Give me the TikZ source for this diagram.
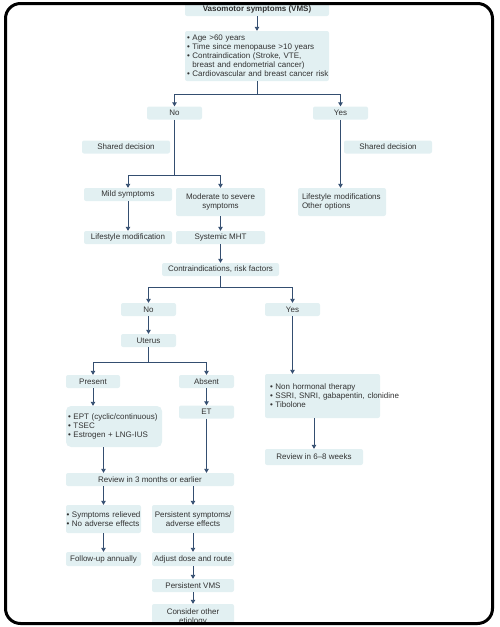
\documentclass[tikz,border=0pt]{standalone}
\usepackage{fontspec}
\setmainfont{Liberation Sans}
\definecolor{vmsfill}{RGB}{226,240,242}
\definecolor{vmsline}{RGB}{52,78,112}
\definecolor{vmstext}{RGB}{50,50,50}
\usetikzlibrary{arrows.meta}

\begin{document}
\begin{tikzpicture}[x=1pt,y=-1pt,
  box/.style={fill=vmsfill,rounded corners=2pt,inner sep=2pt,minimum height=13pt,
    font=\fontsize{8}{9}\selectfont,text=vmstext,align=center},
  lbox/.style={box,align=left},
  arr/.style={-{Triangle[length=4pt,width=4.5pt]},line width=0.9pt,vmsline},
  link/.style={line width=0.9pt,vmsline}
]
  \useasboundingbox (0,0) rectangle (499,627);
  \begin{scope}
  \clip[rounded corners=15pt] (5.5,3.5) rectangle (492.5,623.5);
  % Start and criteria
  \node[box,minimum width=144pt,font=\fontsize{8}{9}\selectfont\bfseries] (vms) at (257,9.5) {Vasomotor symptoms (VMS)};
  \node[lbox,text width=140pt,inner xsep=2pt,minimum height=50pt] (crit) at (257,56)
    {• Age >60 years\\• Time since menopause >10 years\\• Contraindication (Stroke, VTE,\\\phantom{• }breast and endometrial cancer)\\\mbox{• Cardiovascular and breast cancer risk}};
  % First decision
  \node[box,minimum width=55pt] (no1) at (174.5,113) {No};
  \node[box,minimum width=55pt] (yes1) at (340.5,113) {Yes};
  \node[box,minimum width=88pt] (sdl) at (126,147) {Shared decision};
  \node[box,minimum width=88pt] (sdr) at (388,147) {Shared decision};
  \node[box,minimum width=88pt] (mild) at (128,194.5) {Mild symptoms};
  \node[box,minimum width=89pt,minimum height=28pt] (mod) at (220.5,202) {Moderate to severe\\symptoms};
  \node[lbox,text width=80pt,inner xsep=4pt,minimum height=28pt] (life) at (342,202) {Lifestyle modifications\\Other options};
  \node[box,minimum width=88pt] (lifemod) at (128,237.5) {Lifestyle modification};
  \node[box,minimum width=89pt] (mht) at (220.5,237.5) {Systemic MHT};
  \node[box,minimum width=117pt] (ci) at (220.5,269.5) {Contraindications, risk factors};
  % Second decision
  \node[box,minimum width=55pt] (no2) at (148.5,309.5) {No};
  \node[box,minimum width=55pt] (yes2) at (292.5,309.5) {Yes};
  \node[box,minimum width=55pt] (ut) at (148.5,340.5) {Uterus};
  \node[box,minimum width=54pt] (pres) at (93,381.5) {Present};
  \node[box,minimum width=55pt] (abs) at (206.5,381.5) {Absent};
  \node[lbox,text width=105pt,inner xsep=5pt,minimum height=44pt] (nh) at (322.5,396)
    {• Non hormonal therapy\\\mbox{• SSRI, SNRI, gabapentin, clonidine}\\• Tibolone};
  \node[lbox,text width=92pt,rounded corners=5pt,minimum height=41pt] (ept) at (114,426.5)
    {• EPT (cyclic/continuous)\\• TSEC\\• Estrogen + LNG-IUS};
  \node[box,minimum width=55pt] (et) at (206.5,412) {ET};
  \node[box,minimum width=98pt,minimum height=16pt] (r68) at (314,457) {Review in 6--8 weeks};
  % Follow-up
  \node[box,minimum width=168pt] (r3) at (150,479.5) {Review in 3 months or earlier};
  \node[lbox,text width=74pt,inner xsep=0.5pt,minimum height=28pt] (sr) at (103.5,519) {\mbox{• Symptoms relieved}\\\mbox{• No adverse effects}};
  \node[box,minimum width=82pt,minimum height=28pt] (ps) at (193,519) {Persistent symptoms/\\adverse effects};
  \node[box,minimum width=75pt,minimum height=14pt] (fu) at (103.5,559) {Follow-up annually};
  \node[box,minimum width=82pt,minimum height=14pt] (adj) at (193,559) {Adjust dose and route};
  \node[box,minimum width=82pt] (pvms) at (193,585.5) {Persistent VMS};
  \node[box,minimum width=82pt,minimum height=26pt] (oth) at (193,617) {Consider other\\etiology};
  % Forks
  \coordinate (f1) at (257,94);
  \coordinate (f2) at (174.5,175);
  \coordinate (f3) at (220.5,287);
  \coordinate (f4) at (148.5,362);
  % Connectors
  \draw[arr] (vms) -- (crit);
  \draw[link] (crit.south) -- (f1);
  \draw[arr] (f1) -| (no1.north);
  \draw[arr] (f1) -| (yes1.north);
  \draw[link] (no1.south) -- (f2);
  \draw[arr] (f2) -| (mild.north);
  \draw[arr] (f2) -| (mod.north);
  \draw[arr] (yes1) -- (life.north -| yes1);
  \draw[arr] (mild) -- (lifemod);
  \draw[arr] (mod) -- (mht);
  \draw[arr] (mht) -- (ci);
  \draw[link] (ci.south) -- (f3);
  \draw[arr] (f3) -| (no2.north);
  \draw[arr] (f3) -| (yes2.north);
  \draw[arr] (no2) -- (ut);
  \draw[link] (ut.south) -- (f4);
  \draw[arr] (f4) -| (pres.north);
  \draw[arr] (f4) -| (abs.north);
  \draw[arr] (yes2) -- (nh.north -| yes2);
  \draw[arr] (pres) -- (ept.north -| pres);
  \draw[arr] (abs) -- (et);
  \draw[arr] (ept.south -| sr) -- (r3.north -| sr);
  \draw[arr] (et) -- (r3.north -| et);
  \draw[arr] (nh.south -| r68) -- (r68);
  \draw[arr] (r3.south -| sr) -- (sr);
  \draw[arr] (r3.south -| ps) -- (ps);
  \draw[arr] (sr) -- (fu);
  \draw[arr] (ps) -- (adj);
  \draw[arr] (adj) -- (pvms);
  \draw[arr] (pvms) -- (oth);
  \end{scope}
  % Frame
  \draw[line width=3pt,rounded corners=15pt] (5.5,3.5) rectangle (492.5,623.5);
\end{tikzpicture}
\end{document}
